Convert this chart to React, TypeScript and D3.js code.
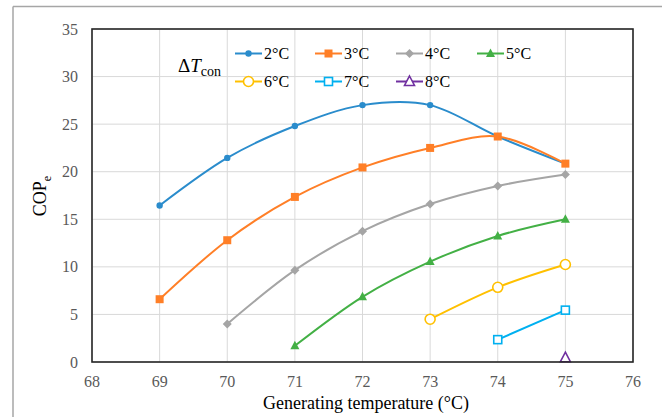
import React from "react";
import * as d3 from "d3";

const xTicks = [68, 69, 70, 71, 72, 73, 74, 75, 76];
const yTicks = [0, 5, 10, 15, 20, 25, 30, 35];

const temps = [69, 70, 71, 72, 73, 74, 75];
const cop2 = [16.45, 21.45, 24.8, 27.0, 27.0, 23.7, 20.85];
const cop3 = [6.6, 12.8, 17.35, 20.45, 22.5, 23.7, 20.85];
const cop4 = [null, 4.0, 9.65, 13.75, 16.6, 18.5, 19.7];
const cop5 = [null, null, 1.7, 6.85, 10.55, 13.25, 15.0];
const cop6 = [null, null, null, null, 4.5, 7.85, 10.25];
const cop7 = [null, null, null, null, null, 2.35, 5.45];
const cop8 = [null, null, null, null, null, null, 0.45];

const labels = ["2°C", "3°C", "4°C", "5°C", "6°C", "7°C", "8°C"];
const colors = ["#2a8ccc", "#ff7f27", "#a5a5a5", "#43b045", "#ffc000", "#00b0f0", "#7030a0"];
const markers = ["circle", "square", "diamond", "triangle", "ocircle", "osquare", "otriangle"];
const seriesVals = [cop2, cop3, cop4, cop5, cop6, cop7, cop8];

const W = 662, H = 417;
const L = 92, R = 633, T = 29, B = 362;

function Marker({ type, x, y, color }: { type: string; x: number; y: number; color: string }) {
  switch (type) {
    case "circle":
      return <circle cx={x} cy={y} r={3.2} fill={color} />;
    case "square":
      return <rect x={x - 4} y={y - 4} width={8} height={8} fill={color} />;
    case "diamond":
      return <path d={`M${x},${y - 4.5}L${x + 4.5},${y}L${x},${y + 4.5}L${x - 4.5},${y}Z`} fill={color} />;
    case "triangle":
      return <path d={`M${x},${y - 5}L${x + 4.5},${y + 3.5}L${x - 4.5},${y + 3.5}Z`} fill={color} />;
    case "ocircle":
      return <circle cx={x} cy={y} r={5} fill="white" stroke={color} strokeWidth={1.6} />;
    case "osquare":
      return <rect x={x - 4} y={y - 4} width={8} height={8} fill="white" stroke={color} strokeWidth={1.6} />;
    case "otriangle":
      return <path d={`M${x},${y - 5.5}L${x + 5},${y + 4}L${x - 5},${y + 4}Z`} fill="white" stroke={color} strokeWidth={1.6} />;
  }
  return null;
}

export default function App() {
  const x = d3.scaleLinear().domain([68, 76]).range([L, R]);
  const y = d3.scaleLinear().domain([0, 35]).range([B, T]);
  const line = d3
    .line<[number, number]>()
    .x((d) => x(d[0]))
    .y((d) => y(d[1]))
    .curve(d3.curveCatmullRom.alpha(0));

  const serif = '"Liberation Serif", "DejaVu Serif", serif';
  const legendCols = [235, 315, 396, 477];
  const legendRows = [53.5, 81.5];

  return (
    <svg width={W} height={H} style={{ position: "absolute", left: 0, top: 0, background: "white", fontFamily: serif }}>
      <rect x={0} y={0} width={W} height={H} fill="white" />
      {/* outer border */}
      <line x1={13} y1={6.5} x2={W} y2={6.5} stroke="#a6a6a6" strokeWidth={1.5} />
      <line x1={13} y1={6.5} x2={13} y2={H} stroke="#a6a6a6" strokeWidth={1.5} />

      {/* grid */}
      {xTicks.map((t) => (
        <line key={"gx" + t} x1={x(t)} x2={x(t)} y1={T} y2={B} stroke="#d9d9d9" strokeWidth={1} />
      ))}
      {yTicks.map((t) => (
        <line key={"gy" + t} x1={L} x2={R} y1={y(t)} y2={y(t)} stroke="#d9d9d9" strokeWidth={1} />
      ))}

      {/* series */}
      {seriesVals.map((vals, i) => {
        const pts: [number, number][] = [];
        vals.forEach((v, j) => {
          if (v !== null) pts.push([temps[j], v as number]);
        });
        return (
          <g key={"s" + i}>
            {pts.length > 1 && <path d={line(pts) || ""} fill="none" stroke={colors[i]} strokeWidth={2} />}
            {pts.map((p, k) => (
              <Marker key={k} type={markers[i]} x={x(p[0])} y={y(p[1])} color={colors[i]} />
            ))}
          </g>
        );
      })}

      {/* frame */}
      <rect x={L} y={T} width={R - L} height={B - T} fill="none" stroke="#262626" strokeWidth={1.6} />

      {/* tick labels */}
      {xTicks.map((t) => (
        <text key={"tx" + t} x={x(t)} y={387} textAnchor="middle" fontSize={16} fill="#595959" style={{ fontFamily: serif }}>
          {t}
        </text>
      ))}
      {yTicks.map((t) => (
        <text key={"ty" + t} x={78} y={y(t)} dy="0.35em" textAnchor="end" fontSize={16} fill="#595959" style={{ fontFamily: serif }}>
          {t}
        </text>
      ))}

      {/* axis titles */}
      <text x={366} y={409} textAnchor="middle" fontSize={18} fill="#000" style={{ fontFamily: serif }}>
        Generating temperature (°C)
      </text>
      <text transform="translate(46,196) rotate(-90)" textAnchor="middle" fontSize={18} fill="#000" style={{ fontFamily: serif }}>
        COP<tspan fontSize={12} dy={5}>e</tspan>
      </text>

      {/* legend */}
      <text x={178} y={72} fontSize={19} fill="#000" style={{ fontFamily: serif }}>
        Δ<tspan fontStyle="italic">T</tspan>
        <tspan fontSize={14} dy={4}>con</tspan>
      </text>
      {labels.map((lab, i) => {
        const cx = legendCols[i % 4];
        const cy = legendRows[Math.floor(i / 4)];
        return (
          <g key={"lg" + i}>
            <line x1={cx} x2={cx + 27} y1={cy} y2={cy} stroke={colors[i]} strokeWidth={2} />
            <Marker type={markers[i]} x={cx + 13.5} y={cy} color={colors[i]} />
            <text x={cx + 29} y={cy} dy="0.35em" fontSize={16} fill="#000" style={{ fontFamily: serif }}>
              {lab}
            </text>
          </g>
        );
      })}
    </svg>
  );
}
